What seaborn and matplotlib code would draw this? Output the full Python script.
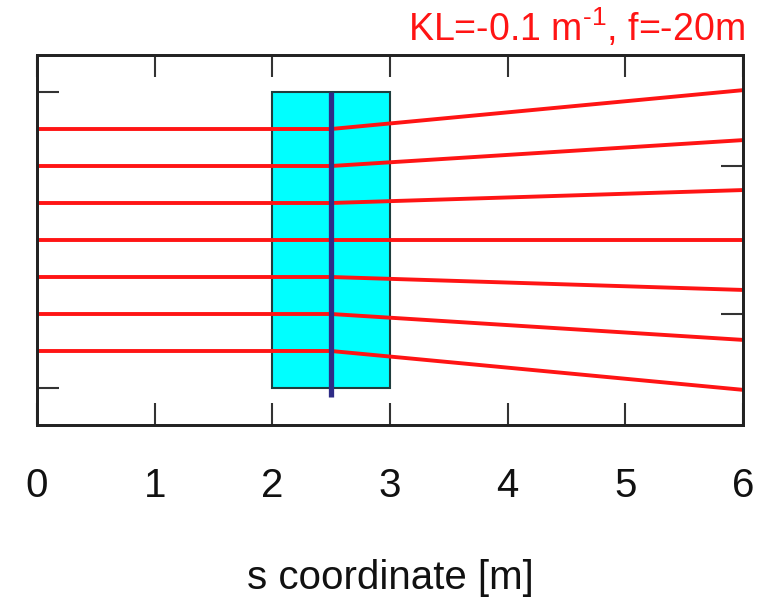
import matplotlib
matplotlib.use("Agg")
import matplotlib.pyplot as plt
import matplotlib.patches as mpatches
import seaborn as sns
import pandas as pd

# ---- data ----
ray_y0 = [3, 2, 1, 0, -1, -2, -3]                     # initial ray offsets
ray_s = [0.0, 2.5, 6.0]                               # s positions along each ray
ray_y_end = [4.05, 2.70, 1.35, 0.0, -1.35, -2.70, -4.05]  # offsets at s = 6
quad_s = [2.0, 3.0]                                   # quadrupole extent
quad_half_aperture = 4.0
lens_s = 2.5
lens_y = [-4.25, 4.0]
x_ticks = [0, 1, 2, 3, 4, 5, 6]
left_yticks = [-4, 4]
right_yticks = [-2, 2]
title = r"KL=-0.1 m$^{\text{-1}}$, f=-20m"
xlabel = "s coordinate [m]"

rows = []
for i, (y0, y1) in enumerate(zip(ray_y0, ray_y_end)):
    for s, y in zip(ray_s, [y0, y0, y1]):
        rows.append({"ray": i, "s": s, "y": y})
df = pd.DataFrame(rows)

sns.set_style("white")
plt.rcParams["font.family"] = ["Liberation Sans", "DejaVu Sans"]
plt.rcParams["mathtext.fontset"] = "custom"
plt.rcParams["mathtext.rm"] = "Liberation Sans"
plt.rcParams["mathtext.it"] = "Liberation Sans"
plt.rcParams["mathtext.bf"] = "Liberation Sans"

fig = plt.figure(figsize=(7.69, 6.02), dpi=100)
ax = fig.add_axes([37 / 769, 1 - 425 / 602, (743 - 37) / 769, (425 - 55) / 602])

ax.add_patch(mpatches.Rectangle((quad_s[0], -quad_half_aperture), quad_s[1] - quad_s[0],
                                2 * quad_half_aperture, facecolor="#00FFFF",
                                edgecolor="#1f3d3d", linewidth=1.5, zorder=1))

sns.lineplot(data=df, x="s", y="y", units="ray", estimator=None, color="#FF1414",
             linewidth=2.8, ax=ax, zorder=2, legend=False)

ax.plot([lens_s, lens_s], lens_y, color="#2E2C86", linewidth=3.8, zorder=3, solid_capstyle="butt")

ax.set_xlim(0, 6)
ax.set_ylim(-5, 5)
ax.set_xticks(x_ticks)
ax.set_xticklabels([str(t) for t in x_ticks], fontsize=29)
ax.set_yticks(left_yticks)
ax.set_yticklabels([])
ax.tick_params(axis="x", direction="in", length=16, width=1.5, color="#333333",
               top=True, bottom=True, pad=30, labelcolor="#111111")
ax.tick_params(axis="y", direction="in", length=16, width=1.5, color="#333333",
               left=True, right=False)

ax2 = ax.twinx()
ax2.set_ylim(-5, 5)
ax2.set_yticks(right_yticks)
ax2.set_yticklabels([])
ax2.tick_params(axis="y", direction="in", length=16, width=1.5, color="#333333", right=True)
for a in (ax, ax2):
    for sp in a.spines.values():
        sp.set_color("#222222")
        sp.set_linewidth(2.0)

ax.set_xlabel(xlabel, fontsize=29, labelpad=39, color="#111111")
ax.set_ylabel("")
fig.text(745 / 769, 1 - 28 / 602, title, color="#FF1414", fontsize=27,
         ha="right", va="center")

fig.savefig("out.png", dpi=100)
